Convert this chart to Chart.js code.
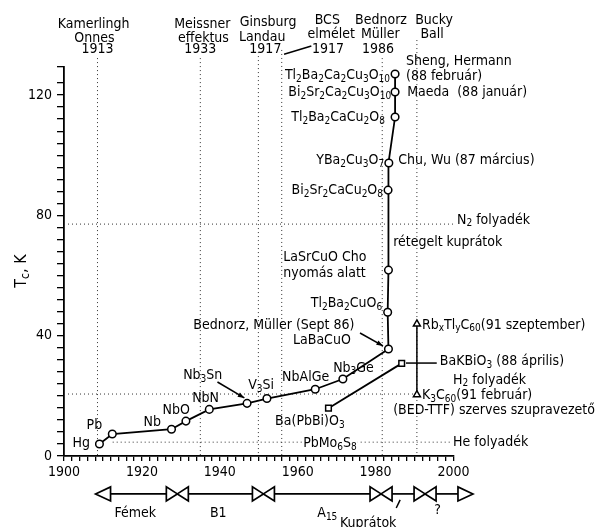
<!DOCTYPE html>
<html>
<head>
<meta charset="utf-8">
<script src="https://cdn.jsdelivr.net/npm/chart.js@4.4.0/dist/chart.umd.min.js"></script>
<style>
  html, body { margin: 0; padding: 0; background: #fff; }
  #wrap { width: 602px; height: 527px; }
</style>
</head>
<body>
<div id="wrap"><canvas id="tcChart"></canvas></div>
<script>
// --- adatok (évszám, Tc kelvinben) ---
const mainNames = ['Hg', 'Pb', 'Nb', 'NbO', 'NbN', 'Nb3Sn', 'V3Si', 'NbAlGe', 'Nb3Ge', 'LaBaCuO',
  'Tl2Ba2CuO6', 'LaSrCuO', 'Bi2Sr2CaCu2O8', 'YBa2Cu3O7', 'Tl2Ba2CaCu2O8', 'Bi2Sr2Ca2Cu3O10', 'Tl2Ba2Ca2Cu3O10'];
const mainYears = [1909.1, 1912.4, 1927.6, 1931.3, 1937.3, 1947.0, 1952.1, 1964.5, 1971.6, 1983.3,
  1983.1, 1983.3, 1983.2, 1983.4, 1985.0, 1985.0, 1985.0];
const mainTc = [4.0, 7.3, 8.9, 11.6, 15.5, 17.5, 19.1, 22.2, 25.6, 35.6,
  47.8, 61.8, 88.4, 97.4, 112.7, 121.0, 127.0];

const bismNames = ['Ba(PbBi)O3', 'BaKBiO3'];
const bismYears = [1967.9, 1986.7];
const bismTc = [15.9, 30.8];

const fullNames = ['K3C60', 'RbxTlyC60'];
const fullYears = [1990.6, 1990.6];
const fullTc = [20.4, 43.9];

// folyékony gázok forráspontja
const cryoNames = ['He folyadék', 'H2 folyadék', 'N2 folyadék'];
const cryoTc = [4.6, 20.6, 77.1];
const cryoFrom = [1912.5, 1900, 1900];
const cryoTo = [1999.5, 1990, 2000];

// függőleges pontozott vonalak (felfedezések)
const eventYears = [1908.6, 1935.0, 1949.9, 1955.9, 1981.7, 1990.6];
const eventTop = [132.3, 132.3, 134.3, 135.0, 132.3, 138.3];

// anyagcsoportok az alsó sávon
const classEdges = [1908.1, 1929.1, 1951.2, 1981.4, 1992.7, 2005.0];

const xTickLabels = [1900, 1920, 1940, 1960, 1980, 2000];
const yTickLabels = [0, 40, 80, 120];

const FONT = "'Liberation Sans Narrow', 'DejaVu Sans Condensed', 'DejaVu Sans', sans-serif";
const MAIN = '14px ' + FONT;
const SUB = '10px ' + FONT;

// [szöveg, év, Tc, igazítás]
const labels = [
  ['Kamerlingh', 1907.6, 143.6, 'center'], ['Onnes', 1907.8, 139.0, 'center'], ['1913', 1908.6, 135.3, 'center'],
  ['Meissner', 1935.5, 143.6, 'center'], ['effektus', 1935.8, 139.0, 'center'], ['1933', 1935.0, 135.3, 'center'],
  ['Ginsburg', 1952.4, 144.3, 'center'], ['Landau', 1950.9, 139.3, 'center'], ['1917', 1951.7, 135.3, 'center'],
  ['BCS', 1967.6, 144.9, 'center'], ['elmélet', 1968.6, 140.3, 'center'], ['1917', 1967.8, 135.3, 'center'],
  ['Bednorz', 1981.4, 144.9, 'center'], ['Müller', 1981.2, 140.3, 'center'], ['1986', 1980.6, 135.3, 'center'],
  ['Bucky', 1995.0, 144.9, 'center'], ['Ball', 1994.5, 140.3, 'center'],
  ['Sheng, Hermann', 1987.8, 131.3, 'left'], ['(88 február)', 1987.8, 126.3, 'left'],
  ['Maeda  (88 január)', 1988.1, 121.0, 'left'],
  ['Chu, Wu (87 március)', 1985.8, 98.4, 'left'],
  ['N_2 folyadék', 2000.9, 78.5, 'left'],
  ['rétegelt kuprátok', 1984.5, 71.1, 'left'],
  ['LaSrCuO Cho', 1956.3, 66.2, 'left'], ['nyomás alatt', 1956.3, 60.8, 'left'],
  ['Rb_xTl_yC_{60}(91 szeptember)', 1991.9, 43.6, 'left'],
  ['Bednorz, Müller (Sept 86)', 1933.2, 43.6, 'left'], ['LaBaCuO', 1958.8, 38.6, 'left'],
  ['BaKBiO_3 (88 április)', 1996.5, 31.3, 'left'],
  ['H_2 folyadék', 1999.9, 25.3, 'left'],
  ['K_3C_{60}(91 február)', 1991.9, 20.3, 'left'],
  ['(BED-TTF) szerves szupravezető', 1984.5, 15.3, 'left'],
  ['Nb_3Sn', 1930.6, 26.9, 'left'], ['V_3Si', 1947.3, 23.6, 'left'],
  ['NbAlGe', 1956.0, 26.3, 'left'], ['Nb_3Ge', 1969.1, 29.3, 'left'],
  ['NbN', 1932.9, 19.3, 'left'], ['NbO', 1925.3, 15.3, 'left'], ['Nb', 1920.4, 11.3, 'left'],
  ['Pb', 1905.8, 10.3, 'left'], ['Hg', 1902.2, 4.3, 'left'],
  ['Ba(PbBi)O_3', 1954.2, 11.6, 'left'],
  ['PbMo_6S_8', 1961.4, 4.3, 'left', true],
  ['He folyadék', 1999.9, 4.7, 'left', true],
  ['Tl_2Ba_2Ca_2Cu_3O_{10}', 1983.7, 126.7, 'right'],
  ['Bi_2Sr_2Ca_2Cu_3O_{10}', 1984.0, 121.0, 'right'],
  ['Tl_2Ba_2CaCu_2O_8', 1982.4, 112.7, 'right'],
  ['YBa_2Cu_3O_7', 1982.2, 98.4, 'right'],
  ['Bi_2Sr_2CaCu_2O_8', 1981.9, 88.4, 'right'],
  ['Tl_2Ba_2CuO_6', 1981.7, 50.9, 'right'],
  ['Fémek', 1918.3, -19.0, 'center'], ['B1', 1939.6, -19.0, 'center'],
  ['A_{15}', 1967.6, -19.0, 'center'], ['Kuprátok', 1978.1, -22.3, 'center'],
  ['?', 1995.9, -18.0, 'center']
];

// [év1, Tc1, év2, Tc2, nyílhegy]
const leaders = [
  [1939.4, 24.6, 1946.3, 19.3, true],
  [1976.0, 40.9, 1981.9, 36.6, true],
  [1987.8, 30.9, 1995.7, 30.9, false],
  [1956.5, 133.6, 1963.5, 136.3, false],
  [1985.3, -17.3, 1986.3, -14.6, false]
];

function pts(xs, ys) {
  return xs.map((x, i) => ({ x, y: ys[i] }));
}

function drawRich(ctx, str, x, y, align, bg, size) {
  const main = size ? size + 'px ' + FONT : MAIN;
  const sub = size ? Math.round(size * 0.72) + 'px ' + FONT : SUB;
  const parts = [];
  const re = /_(\{[^}]*\}|.)/g;
  let last = 0, m;
  while ((m = re.exec(str))) {
    if (m.index > last) parts.push({ t: str.slice(last, m.index), sub: false });
    parts.push({ t: m[1].replace(/[{}]/g, ''), sub: true });
    last = re.lastIndex;
  }
  if (last < str.length) parts.push({ t: str.slice(last), sub: false });
  let w = 0;
  parts.forEach(p => {
    ctx.font = p.sub ? sub : main;
    p.w = ctx.measureText(p.t).width;
    w += p.w;
  });
  let cx = align === 'center' ? x - w / 2 : align === 'right' ? x - w : x;
  if (bg) {
    ctx.fillStyle = '#fff';
    ctx.fillRect(cx - 1, y - 8, w + 2, 16);
  }
  ctx.fillStyle = '#000';
  ctx.textAlign = 'left';
  ctx.textBaseline = 'middle';
  parts.forEach(p => {
    ctx.font = p.sub ? sub : main;
    ctx.fillText(p.t, cx, p.sub ? y + 4 : y);
    cx += p.w;
  });
}

function tri(ctx, tipX, y, dir, w, h) {
  // dir = -1: balra mutat, 1: jobbra mutat
  ctx.beginPath();
  ctx.moveTo(tipX, y);
  ctx.lineTo(tipX - dir * w, y - h);
  ctx.lineTo(tipX - dir * w, y + h);
  ctx.closePath();
  ctx.fillStyle = '#fff';
  ctx.fill();
  ctx.stroke();
}

const annotations = {
  id: 'annotations',
  beforeDatasetsDraw(chart) {
    const { ctx, scales: { x, y } } = chart;
    ctx.save();
    ctx.strokeStyle = '#333';
    ctx.lineWidth = 1;
    ctx.setLineDash([1, 3]);
    eventYears.forEach((yr, i) => {
      const px = x.getPixelForValue(yr);
      ctx.beginPath();
      ctx.moveTo(px, y.getPixelForValue(eventTop[i]));
      ctx.lineTo(px, y.getPixelForValue(0));
      ctx.stroke();
    });
    cryoTc.forEach((tc, i) => {
      const py = y.getPixelForValue(tc);
      ctx.beginPath();
      ctx.moveTo(x.getPixelForValue(cryoFrom[i]), py);
      ctx.lineTo(x.getPixelForValue(cryoTo[i]), py);
      ctx.stroke();
    });
    ctx.restore();
  },
  afterDatasetsDraw(chart) {
    const { ctx, scales: { x, y } } = chart;
    ctx.save();
    ctx.strokeStyle = '#000';
    ctx.lineWidth = 1.5;
    leaders.forEach(([x1, y1, x2, y2, head]) => {
      const ax = x.getPixelForValue(x1), ay = y.getPixelForValue(y1);
      const bx = x.getPixelForValue(x2), by = y.getPixelForValue(y2);
      ctx.beginPath();
      ctx.moveTo(ax, ay);
      ctx.lineTo(bx, by);
      ctx.stroke();
      if (head) {
        const a = Math.atan2(by - ay, bx - ax);
        ctx.beginPath();
        ctx.moveTo(bx, by);
        ctx.lineTo(bx - 7 * Math.cos(a - 0.35), by - 7 * Math.sin(a - 0.35));
        ctx.lineTo(bx - 7 * Math.cos(a + 0.35), by - 7 * Math.sin(a + 0.35));
        ctx.closePath();
        ctx.fillStyle = '#000';
        ctx.fill();
      }
    });

    // alsó sáv: anyagcsoportok
    const barY = y.getPixelForValue(-12.6);
    const edges = classEdges.map(v => x.getPixelForValue(v));
    ctx.lineWidth = 1.7;
    const tw = 11, th = 7;
    for (let i = 0; i < edges.length - 1; i++) {
      const start = i === 0 ? edges[i] + 15 : edges[i] + tw;
      const end = i === edges.length - 2 ? edges[i + 1] - 15 : edges[i + 1] - tw;
      ctx.beginPath();
      ctx.moveTo(start, barY);
      ctx.lineTo(end, barY);
      ctx.stroke();
    }
    tri(ctx, edges[0], barY, -1, 15, th);
    for (let i = 1; i < edges.length - 1; i++) {
      tri(ctx, edges[i], barY, 1, tw, th);
      tri(ctx, edges[i], barY, -1, tw, th);
    }
    tri(ctx, edges[edges.length - 1], barY, 1, 15, th);

    labels.forEach(([t, yr, tc, align, bg]) => {
      drawRich(ctx, t, x.getPixelForValue(yr), y.getPixelForValue(tc), align, bg);
    });

    // y tengely felirata
    ctx.translate(x.getPixelForValue(1889.1), y.getPixelForValue(61.5));
    ctx.rotate(-Math.PI / 2);
    drawRich(ctx, 'T_c, K', 0, 0, 'center', false, 16);
    ctx.restore();
  }
};

Chart.defaults.font.family = FONT;
Chart.defaults.color = '#000';

new Chart(document.getElementById('tcChart'), {
  type: 'scatter',
  data: {
    datasets: [
      {
        label: 'főág',
        data: pts(mainYears, mainTc),
        showLine: true,
        borderColor: '#000',
        borderWidth: 1.8,
        pointStyle: 'circle',
        pointRadius: 3.8,
        pointBorderWidth: 1.5,
        pointBackgroundColor: '#fff',
        pointBorderColor: '#000'
      },
      {
        label: 'bizmutátok',
        data: pts(bismYears, bismTc),
        showLine: true,
        borderColor: '#000',
        borderWidth: 1.8,
        pointStyle: 'rect',
        pointRadius: 4,
        pointBorderWidth: 1.5,
        pointBackgroundColor: '#fff',
        pointBorderColor: '#000'
      },
      {
        label: 'fullerének',
        data: pts(fullYears, fullTc),
        showLine: true,
        borderColor: '#000',
        borderWidth: 1.5,
        pointStyle: 'triangle',
        pointRadius: 4,
        pointBorderWidth: 1.5,
        pointBackgroundColor: '#fff',
        pointBorderColor: '#000'
      }
    ]
  },
  options: {
    responsive: true,
    maintainAspectRatio: false,
    animation: false,
    layout: { padding: { top: 66.5, right: 148.5, bottom: 0, left: 0 } },
    plugins: { legend: { display: false }, tooltip: { enabled: false } },
    scales: {
      x: {
        type: 'linear',
        min: 1900,
        max: 2000,
        afterFit: s => { s.height = 71; },
        border: { color: '#000', width: 1.8 },
        grid: { drawOnChartArea: false, tickLength: 5, color: '#000', lineWidth: 1.3 },
        ticks: {
          stepSize: 2,
          autoSkip: false,
          maxRotation: 0,
          padding: 3,
          font: { size: 14 },
          callback: v => xTickLabels.includes(v) ? String(v) : ''
        }
      },
      y: {
        min: 0,
        max: 129.5,
        afterFit: s => { s.width = 64; },
        border: { color: '#000', width: 1.8 },
        grid: { drawOnChartArea: false, tickLength: 7, color: '#000', lineWidth: 1.3 },
        ticks: {
          stepSize: 4,
          autoSkip: false,
          padding: 5,
          font: { size: 14 },
          callback: v => yTickLabels.includes(v) ? String(v) : ''
        }
      }
    }
  },
  plugins: [annotations]
});
</script>
</body>
</html>
